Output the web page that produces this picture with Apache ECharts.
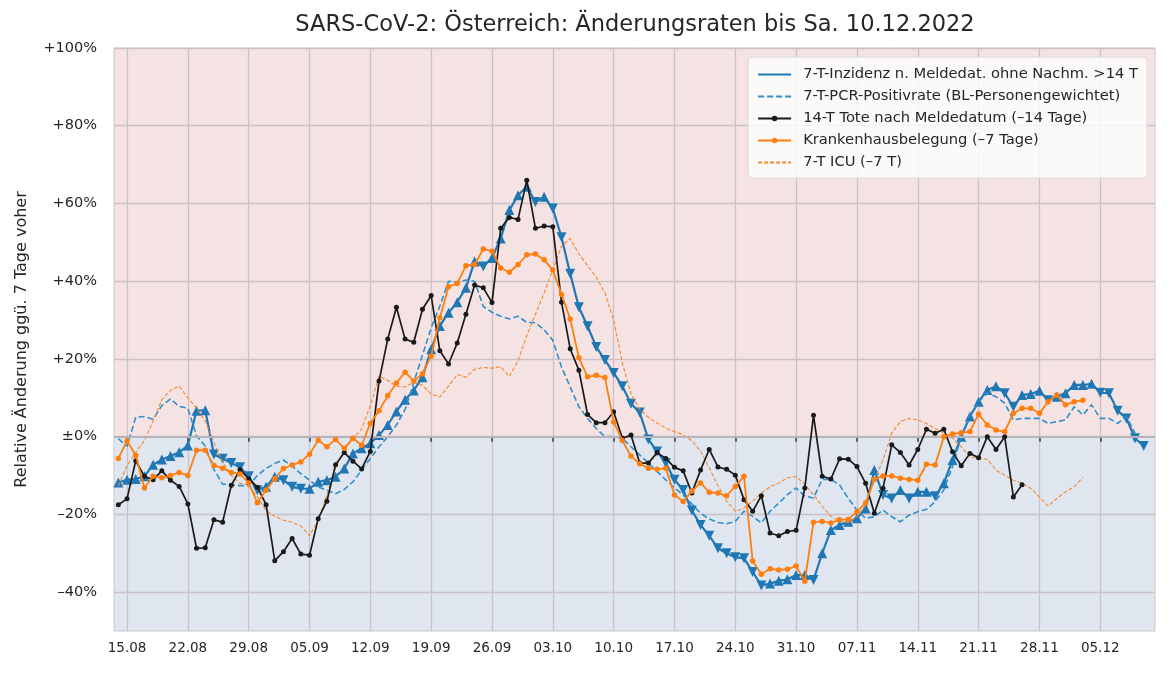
<!DOCTYPE html>
<html>
<head>
<meta charset="utf-8">
<title>SARS-CoV-2 Österreich Änderungsraten</title>
<script src="https://cdn.jsdelivr.net/npm/echarts@6/dist/echarts.min.js"></script>
<style>
  html, body { margin: 0; padding: 0; background: #fff; }
  #chart { width: 1167px; height: 677px; }
</style>
</head>
<body>
<div id="chart"></div>
<script>
// Tag 0 = 15.08.2022, alle Reihen beginnen am 14.08. (Tag -1)
var firstDay = -1;

var xTickLabels = ['15.08', '22.08', '29.08', '05.09', '12.09', '19.09', '26.09', '03.10',
  '10.10', '17.10', '24.10', '31.10', '07.11', '14.11', '21.11', '28.11', '05.12'];
var yTicks = [-40, -20, 0, 20, 40, 60, 80, 100];

// 7-T-Inzidenz (14.08. - 10.12.)
var inzidenz = [
  -11.8, -11.1, -10.9, -10.2, -7.2, -5.9, -5, -4, -2.3, 6.7, 6.8, -4.6, -5.7, -6.8, -7.9, -10.2, -13.8, -12.9,
  -10.3, -11.2, -12.9, -13.4, -13.4, -11.6, -11.2, -10.3, -8.2, -4.3, -3, -1.7, 0.4, 3, 6.5, 9.5, 11.9, 15.3,
  22.5, 28.5, 31.9, 34.6, 38.3, 45.1, 43.8, 46, 51, 58.3, 62.1, 64.3,
  60.4, 61.7, 58.7, 51.3, 41.9, 33.3, 28.4, 23.1, 19.7, 16.4, 13, 8.5, 6.2, -0.7, -3.8, -6.8, -11.1, -13.7,
  -19, -22.7, -25.5, -28.7, -30, -31, -31.3, -34.8, -38.3, -37.8, -37.1, -36.7, -35.6,
  -35.6, -36.9, -30, -24, -22.7, -21.9, -21, -18.5, -8.6, -15, -15.9, -13.7, -15.9, -14.2, -14.2, -15.3,
  -12, -6, 0, 5.2, 9, 12, 13, 11.2, 7.7, 10.7, 11, 11.8, 9.4, 10.3,
  11.2, 13.3, 13.3, 13.6, 11.3, 11.2, 6.7, 4.7, -0.4, -2.4
];

// 7-T-PCR-Positivrate (14.08. - 09.12.)
var pcrPositiv = [
  -0.5, -2.5, 5, 5.2, 4.5, 8, 9.7, 7.8, 7.3, 0.2, -2.4, -8.5, -12.2, -12.3, -12.6, -12.6, -10, -8.2,
  -6.9, -6, -7.6, -9.5, -11.2, -12.9, -13.8, -14.7, -13.6, -11.6, -8.6, -5.6, -2.6, 0, 3, 7, 14, 21,
  28, 33.6, 40, 39.6, 40.3, 40, 33.5, 32, 31, 30.3, 31, 29.4,
  29.3, 27.5, 24.8, 17.9, 12.8, 7.7, 4.7, 2.1, 0, 0, -0.4, -2.6, -4.7, -6.8, -9, -11.1, -13.2, -15,
  -17.3, -19.7, -21.2, -22.1, -22.4, -21.8, -19.2, -20.5, -22.2, -19.2, -17.1, -14.9, -13.2,
  -15.3, -15.8, -11, -11, -12.4, -15.9, -18.9, -21, -20.6, -18.9, -20.6, -21.9, -20.2, -19.3, -18.7, -16.7,
  -13.7, -7.7, 0, 5.6, 9, 11.2, 10.3, 8.6, 4.3, 4.7, 4.7, 4.7, 3.4, 3.9,
  4.3, 7.7, 5.6, 8.2, 4.7, 4.7, 3.4, 5.2, 0.9
];

// 14-T Tote nach Meldedatum (14.08. - 26.11.)
var tote = [
  -17.5, -16, -6.2, -10.2, -11.1, -8.8, -11.2, -12.8, -17.3, -28.7, -28.6, -21.4, -22, -12.5, -8.5, -10.8, -13, -17.5,
  -31.9, -29.6, -26.2, -30.2, -30.5, -21.1, -16.6, -7.2, -4.1, -6.3, -8.3, -3.8, 14.3, 25.1, 33.3, 25.1,
  24.3, 32.8, 36.3, 22.1, 18.7, 24.1, 31.5, 39, 38.3, 34.5, 53.6, 56.4, 55.9, 66,
  53.6, 54.2, 54, 34.6, 22.6, 17.1, 5.7, 3.6, 3.6, 6.4, -0.4, 0.4, -6.8, -6.8, -4.1, -5.6, -7.9, -8.8,
  -14.5, -8.6, -3.3, -7.8, -8.4, -9.9, -16.2, -19.2, -15.2, -24.8, -25.5, -24.4, -24.1,
  -13.2, 5.5, -10.2, -10.9, -5.7, -5.8, -7.7, -12, -19.7, -13.3, -2.1, -4.1, -7.3, -3.3, 1.9, 0.9,
  1.9, -3.9, -7.5, -4.3, -5.4, 0, -3.3, 0, -15.5, -12.4
];

// Krankenhausbelegung (14.08. - 03.12.)
var krankenhaus = [
  -5.6, -1.1, -4.8, -13.2, -10.2, -10.6, -10, -9.2, -10, -3.5, -3.5, -7.4, -8.1, -9.2, -9.6, -11.9, -17, -13.8,
  -10.8, -8.2, -7.3, -6.5, -4.5, -0.9, -2.6, -0.7, -3, -0.4, -2.2, 3.4, 6.7, 10.5, 13.8, 16.6,
  14.3, 16.2, 20.7, 30.6, 38.6, 39.4, 44, 44.3, 48.3, 47.7, 43.4, 42.3, 44.3, 46.8,
  47, 45.5, 42.9, 36.6, 30.3, 20.3, 15.4, 15.8, 15.2, 3.8, -1, -5, -7, -8.1, -8.4, -8.1,
  -15, -16.7, -14, -11.9, -14.3, -14.5, -15.2, -12.8, -10.2, -32, -35.4, -34, -34.3, -34.1, -33.3,
  -37.2, -22, -21.8, -22.2, -21.4, -21.3, -19.3, -17, -11, -10.1, -10.1, -10.7, -11, -11.2, -7.1, -7.3,
  0, 0.7, 1, 1.3, 5.8, 3, 1.7, 1.3, 6, 7.3, 7.3, 6, 9, 10.7,
  8.2, 9, 9.4
];

// 7-T ICU (14.08. - 03.12.)
var icu = [
  -12.7, -7.5, -4, -1, 4, 9.5, 12, 13, 10, 7.3, 4, -1.5, -6.5, -10, -12, -12.5, -15.5, -19,
  -20.5, -21.5, -22, -23, -25.5, -21.5, -15, -8, -3.5, -0.5, 2, 8, 15.5, 14.5, 13, 12.8,
  14, 13.2, 11, 10.2, 13, 16, 15.3, 17.3, 17.8, 17.6, 18, 15.5, 19.5, 26,
  31.5, 37, 43, 49, 51, 47, 44, 41, 37, 30, 19, 11, 7, 5, 3.5, 2.2,
  1.3, 0.5, -1, -3.7, -8, -12.6, -16.6, -19.2, -18.4, -16.6, -14.5, -12.9, -11.9, -10.6, -10.2,
  -12.3, -14.9, -17.9, -20.5, -21.7, -22.1, -20.6, -17.6, -11.2, -6, 0.9, 3.9, 4.7, 4.3, 3.4, 2.1,
  0.9, -0.4, -2.6, -5.2, -5.6, -5.8, -8.6, -9.9, -11.2, -12, -13.3, -15.5, -17.9, -15.9,
  -14.2, -12.9, -10.5
];

function toPoints(arr) {
  return arr.map(function (v, i) { return [firstDay + i, v]; });
}

// Dreieck nach oben bei Anstieg, nach unten bei Rückgang
var inzidenzPoints = inzidenz.map(function (v, i) {
  var down = i > 0 && v < inzidenz[i - 1];
  return { value: [firstDay + i, v], symbolRotate: down ? 180 : 0 };
});

function pctLabel(v) {
  if (v === 0) return '±0%';
  return (v > 0 ? '+' : '–') + Math.abs(v) + '%';
}

var font = '"DejaVu Sans", Verdana, sans-serif';
var xTickValues = xTickLabels.map(function (_, i) { return i * 7; });
var gridColor = '#c9c1c7';

var myChart = echarts.init(document.getElementById('chart'));

var option = {
  animation: false,
  textStyle: { fontFamily: font },
  title: {
    text: 'SARS-CoV-2: Österreich: Änderungsraten bis Sa. 10.12.2022',
    left: 630,
    textAlign: 'center',
    top: 9,
    textStyle: { fontSize: 22.5, fontWeight: 'normal', color: '#262626', fontFamily: font }
  },
  legend: {
    orient: 'vertical',
    right: 20,
    top: 57,
    padding: [10, 9, 8, 9],
    itemGap: 7,
    itemWidth: 33,
    itemHeight: 7,
    backgroundColor: 'rgba(255,255,255,0.8)',
    borderColor: '#dcdcdc',
    borderWidth: 1,
    borderRadius: 4,
    textStyle: { fontSize: 14.7, color: '#262626', fontFamily: font, padding: [0, 0, 0, 7] },
    data: [
      { name: '7-T-Inzidenz n. Meldedat. ohne Nachm. >14 T', itemStyle: { opacity: 0 } },
      { name: '7-T-PCR-Positivrate (BL-Personengewichtet)', itemStyle: { opacity: 0 } },
      { name: '14-T Tote nach Meldedatum (–14 Tage)' },
      { name: 'Krankenhausbelegung (–7 Tage)' },
      { name: '7-T ICU (–7 T)', itemStyle: { opacity: 0 } }
    ]
  },
  grid: {
    left: 114, right: 12, top: 48, bottom: 46,
    show: true, borderColor: '#c8c8c8', borderWidth: 1
  },
  xAxis: {
    type: 'value',
    min: -1.5,
    max: 118.3,
    axisLine: { show: true, lineStyle: { color: '#c8c8c8', width: 1 } },
    axisTick: {
      show: true, length: 5, inside: false,
      lineStyle: { color: '#3a3a3a', width: 1.5 },
      customValues: xTickValues
    },
    axisLabel: {
      color: '#262626', fontSize: 13.5, margin: 10,
      customValues: xTickValues,
      formatter: function (v) { return xTickLabels[Math.round(v / 7)]; }
    },
    splitLine: { show: true, lineStyle: { color: gridColor, width: 1.3 } }
  },
  yAxis: {
    type: 'value',
    min: -50,
    max: 100,
    name: 'Relative Änderung ggü. 7 Tage voher',
    nameLocation: 'middle',
    nameGap: 84,
    nameTextStyle: { fontSize: 16, color: '#262626', fontFamily: font },
    axisLine: { show: false },
    axisTick: { show: false, customValues: yTicks },
    axisLabel: {
      color: '#262626', fontSize: 14.5, margin: 17,
      customValues: yTicks,
      formatter: pctLabel
    },
    splitLine: { show: true, lineStyle: { color: gridColor, width: 1.3 } }
  },
  series: [
    {
      name: 'hintergrund',
      type: 'line',
      data: [],
      z: -1,
      silent: true,
      markArea: {
        silent: true,
        z: -1,
        data: [
          [{ yAxis: 0, itemStyle: { color: 'rgba(235,199,201,0.5)' } }, { yAxis: 100 }],
          [{ yAxis: -50, itemStyle: { color: 'rgba(193,205,225,0.5)' } }, { yAxis: 0 }]
        ]
      },
      markLine: {
        silent: true,
        symbol: 'none',
        label: { show: false },
        lineStyle: { color: '#b7b3bb', width: 1.8, type: 'solid' },
        data: [{ yAxis: 0 }]
      }
    },
    {
      name: '7-T-Inzidenz n. Meldedat. ohne Nachm. >14 T',
      type: 'line',
      data: inzidenzPoints,
      z: 3,
      symbol: 'triangle',
      symbolSize: 10,
      showSymbol: true,
      color: '#1f77b4',
      lineStyle: { color: '#1f77b4', width: 2.2 },
      itemStyle: { color: '#1f77b4' }
    },
    {
      name: '7-T-PCR-Positivrate (BL-Personengewichtet)',
      type: 'line',
      data: toPoints(pcrPositiv),
      z: 4,
      symbol: 'none',
      color: '#2e8fcb',
      lineStyle: { color: '#2e8fcb', width: 1.6, type: [6, 3] }
    },
    {
      name: '14-T Tote nach Meldedatum (–14 Tage)',
      type: 'line',
      data: toPoints(tote),
      z: 5,
      symbol: 'circle',
      symbolSize: 5,
      showSymbol: true,
      color: '#1a1a1a',
      lineStyle: { color: '#1a1a1a', width: 1.7 },
      itemStyle: { color: '#1a1a1a' }
    },
    {
      name: 'Krankenhausbelegung (–7 Tage)',
      type: 'line',
      data: toPoints(krankenhaus),
      z: 6,
      symbol: 'circle',
      symbolSize: 5.5,
      showSymbol: true,
      color: '#ff7f0e',
      lineStyle: { color: '#ff7f0e', width: 1.8 },
      itemStyle: { color: '#ff7f0e' }
    },
    {
      name: '7-T ICU (–7 T)',
      type: 'line',
      data: toPoints(icu),
      z: 4,
      symbol: 'none',
      color: '#f5892a',
      lineStyle: { color: '#f5892a', width: 1.1, type: [4, 2] }
    }
  ]
};

myChart.setOption(option);
</script>
</body>
</html>
